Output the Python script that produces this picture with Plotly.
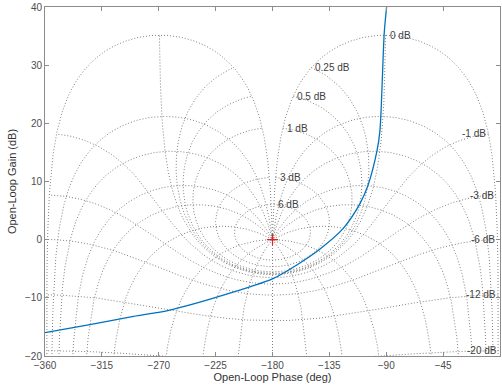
import numpy as np
import plotly.graph_objects as go

# ---- Open-loop response ----
ol_phase = [-360, -324.5, -290, -261.2, -208, -179.6, -158.3, -142.4, -124.2,
            -110.8, -104.5, -97.3, -95.0, -91.6, -89.7]
ol_gain = [-16.0, -14.6, -13.2, -12.1, -8.8, -6.7, -4.0, -1.6, 1.9,
           6.2, 9.3, 15.3, 18.7, 35.5, 40.0]

# ---- Nichols grid definition ----
cl_mag_db = [6, 3, 1, 0.5, 0.25, 0, -1, -3, -6, -12, -20, -40]
cl_phase_deg = [-1, -5, -10, -20, -30, -50, -90, -120, -150, -180,
                -210, -240, -270, -310, -330, -340, -350, -355, -359]

x_ticks = [-360, -315, -270, -225, -180, -135, -90, -45, 0]
y_ticks = [-20, -10, 0, 10, 20, 30, 40]


def ol_from_cl(T):
    G = T / (1 - T)
    ph = np.degrees(np.angle(G))
    ph = np.mod(ph, 360.0) - 360.0
    gain = 20 * np.log10(np.abs(G))
    return ph, gain


gx, gy = [], []
theta = np.radians(np.linspace(-1, -359, 1800))
labels = []
for mdb in cl_mag_db:
    m = 10 ** (mdb / 20.0)
    ph, g = ol_from_cl(m * np.exp(1j * theta))
    gx += list(ph) + [None]
    gy += list(g) + [None]
    lp, lg = ol_from_cl(np.array([m * np.exp(1j * np.radians(-1.0))]))
    labels.append((mdb, lp[0], lg[0]))

r = np.logspace(-4, 4, 5000)
for th in cl_phase_deg:
    ph, g = ol_from_cl(r * np.exp(1j * np.radians(th)))
    gx += list(ph) + [None]
    gy += list(g) + [None]

fig = go.Figure()
fig.add_trace(go.Scatter(x=gx, y=gy, mode="lines", hoverinfo="skip",
                         line=dict(color="#808080", width=1, dash="1px,2px"),
                         showlegend=False))
fig.add_trace(go.Scatter(x=ol_phase, y=ol_gain, mode="lines",
                         line=dict(color="#0072BD", width=1.3, shape="spline", smoothing=0.8),
                         showlegend=False))
fig.add_trace(go.Scatter(x=[-180], y=[0], mode="markers",
                         marker=dict(symbol="cross-thin", size=8,
                                     line=dict(color="rgb(230,30,30)", width=1.2)),
                         showlegend=False))

font_family = "Liberation Sans, Arial, Helvetica, sans-serif"
for mdb, lp, lg in labels:
    if lg < -20 or lg > 40:
        continue
    txt = ("%g dB" % mdb)
    if mdb >= 0:
        fig.add_annotation(x=lp, y=lg, text=txt, showarrow=False, xanchor="left",
                           xshift=2, yanchor="middle",
                           font=dict(size=10, color="#404040", family=font_family))
    else:
        fig.add_annotation(x=lp, y=lg, text=txt, showarrow=False, xanchor="right",
                           xshift=0, yanchor="middle",
                           font=dict(size=10, color="#404040", family=font_family))

axis_common = dict(showline=True, linecolor="#8c8c8c", linewidth=1, mirror="ticks",
                   ticks="inside", ticklen=4, tickcolor="#8c8c8c", showgrid=False,
                   zeroline=False, tickfont=dict(size=10, color="#4d4d4d", family=font_family))
fig.update_xaxes(range=[-360, 0], tickvals=x_ticks, **axis_common,
                 title=dict(text="Open-Loop Phase (deg)", standoff=2,
                            font=dict(size=11, color="#333333", family=font_family)))
fig.update_yaxes(range=[-20, 40], tickvals=y_ticks, **axis_common,
                 title=dict(text="Open-Loop Gain (dB)", standoff=6,
                            font=dict(size=11, color="#333333", family=font_family)))
fig.update_layout(width=502, height=389, margin=dict(l=45, r=2, t=7, b=33),
                  plot_bgcolor="white", paper_bgcolor="white")
fig.write_html("out.html")
